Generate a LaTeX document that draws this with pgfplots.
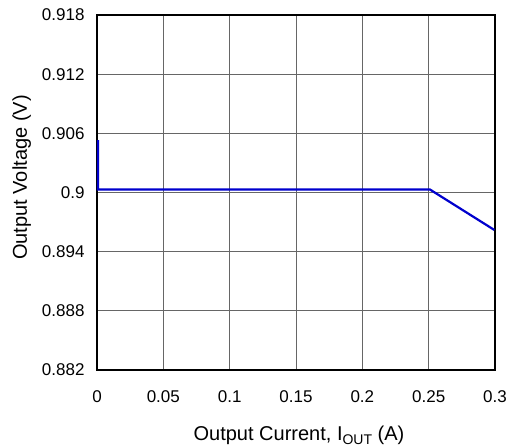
\documentclass[border=0pt]{standalone}
\usepackage{fontspec}
\setmainfont{Liberation Sans}
\usepackage{pgfplots}
\pgfplotsset{compat=1.18}
\begin{document}
\begin{tikzpicture}
\begin{axis}[
  name=ax,
  scale only axis,
  width=398pt, height=355pt,
  xmin=0, xmax=0.3, ymin=0.882, ymax=0.918,
  xtick={0,0.05,0.1,0.15,0.2,0.25,0.3},
  ytick={0.882,0.888,0.894,0.9,0.906,0.912,0.918},
  xticklabels={0,0.05,0.1,0.15,0.2,0.25,0.3},
  yticklabels={0.882,0.888,0.894,0.9,0.906,0.912,0.918},
  grid=major,
  major grid style={black!60, line width=0.8pt},
  axis line style={black, line width=2pt},
  tick style={draw=none},
  ticklabel style={font=\fontsize{17}{20}\selectfont},
  label style={font=\fontsize{20}{24}\selectfont},
  xlabel={Output Current, I\raisebox{-0.22em}{\fontsize{14}{14}\selectfont OUT} (A)},
  ylabel={Output Voltage (V)},
  xlabel style={at={(axis description cs:0.5075,-0.1975)}, anchor=base},
  ylabel style={at={(axis description cs:-0.176,0.542)}, anchor=base},
  xticklabel style={yshift=-17pt},
  yticklabel style={xshift=-9pt},
  clip=false,
]
\addplot[color={rgb,255:red,0;green,0;blue,205}, line width=2.2pt] coordinates {
 (0.0008,0.9053) (0.0008,0.9003) (0.251,0.9003) (0.2995,0.8962)
};
\end{axis}
\pgfresetboundingbox
\path[use as bounding box] ([shift={(-97pt,-78pt)}]ax.south west) rectangle ([shift={(16pt,15pt)}]ax.north east);
\end{tikzpicture}
\end{document}
